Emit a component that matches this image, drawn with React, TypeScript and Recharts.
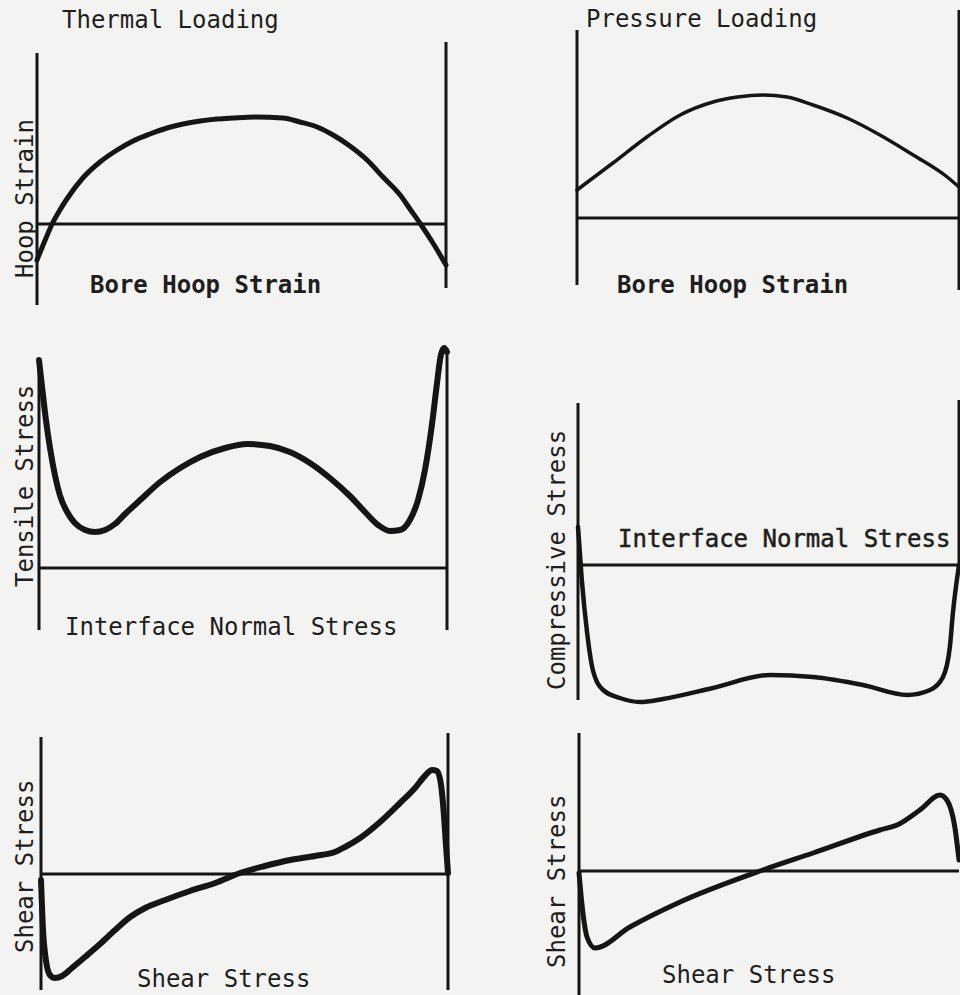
import React from 'react';
import { LineChart, Line, XAxis, YAxis, ReferenceLine } from 'recharts';

// Position along the interface, % of length; values are relative (arbitrary units, 0 = zero line)

// Thermal loading - bore hoop strain
const thermalHoopX = [0, 2.0, 3.7, 5.6, 7.3, 11.2, 15.4, 19.6, 23.5, 27.6, 31.8, 35.7, 39.9, 44.0, 47.9, 53.3, 60.1, 64.3, 68.5, 72.4, 76.5, 80.7, 84.6, 88.8, 91.2, 93.6, 96.8, 100];
const thermalHoopY = [-36, -16, 0, 14, 25, 46, 62, 74, 83, 90, 96, 100, 103, 105, 106, 107, 106, 102, 97, 89, 78, 64, 47, 29, 15, 1, -19, -41];

// Pressure loading - bore hoop strain
const pressureHoopX = [0, 9.4, 18.3, 27.0, 35.6, 42.0, 48.7, 55.0, 61.8, 70.7, 79.3, 88.0, 96.9, 100];
const pressureHoopY = [28, 55, 81, 103, 116, 121, 123, 121, 113, 100, 83, 63, 41, 31];

// Thermal loading - interface normal stress (tensile)
const thermalNormalX = [0, 0.7, 1.7, 2.7, 3.9, 5.1, 6.9, 8.8, 11.3, 13.7, 16.2, 18.6, 21.1, 24.8, 29.7, 34.6, 39.5, 45.6, 51.0, 56.6, 61.5, 66.4, 71.3, 76.2, 79.9, 83.1, 86.0, 88.5, 90.9, 92.9, 94.6, 96.3, 97.5, 98.5, 99.3, 100];
const thermalNormalY = [208, 183, 148, 120, 93, 73, 56, 45, 38, 36, 38, 44, 54, 68, 86, 100, 111, 120, 124, 122, 116, 105, 90, 72, 56, 43, 37, 38, 48, 68, 98, 143, 183, 213, 220, 216];

// Pressure loading - interface normal stress (compressive)
const pressureNormalX = [0, 1.0, 2.4, 3.9, 6.6, 11.0, 16.3, 22.3, 35.4, 50.4, 61.7, 74.8, 86.4, 92.4, 95.8, 97.6, 98.4, 100];
const pressureNormalY = [38, -15, -68, -105, -125, -133, -137, -134, -123, -110, -112, -120, -130, -125, -112, -82, -48, 0];

// Thermal loading - shear stress
const thermalShearX = [0, 0.5, 1.2, 2.2, 3.4, 5.2, 7.6, 10.8, 14.5, 18.2, 21.9, 25.6, 30.5, 36.6, 42.8, 48.9, 55.0, 61.2, 67.3, 72.2, 74.7, 78.4, 83.3, 88.2, 91.9, 94.3, 96.1, 97.3, 98.3, 99.0, 99.5, 100];
const thermalShearY = [-6, -56, -86, -101, -104, -102, -94, -83, -70, -56, -43, -34, -26, -17, -9, 1, 8, 14, 18, 22, 27, 36, 52, 71, 86, 98, 104, 103, 89, 59, 29, 1];

// Pressure loading - shear stress
const pressureShearX = [0, 1.1, 2.1, 4.2, 13.4, 26.6, 48.4, 61.6, 79.2, 83.7, 89.7, 95.0, 96.8, 98.9, 100];
const pressureShearY = [-2, -44, -66, -77, -56, -31, 1, 18, 41, 46, 61, 76, 71, 44, 11];

const zip = (xs: number[], ys: number[]) => xs.map((x, i) => ({ x, y: ys[i] }));

const INK = '#151515';
const PAPER = '#f3f3f1';
const PAD = 10;
const FONT = '"DejaVu Sans Mono", monospace';

interface PanelProps {
  left: number;
  right: number;
  top: number;
  bottom: number;
  domain: [number, number];
  data: { x: number; y: number }[];
  leftAxis: [number, number];
  rightAxis?: [number, number];
  curveWidth: number;
}

function Panel({ left, right, top, bottom, domain, data, leftAxis, rightAxis, curveWidth }: PanelProps) {
  const w = right - left + PAD * 2;
  const h = bottom - top + PAD * 2;
  return (
    <div style={{ position: 'absolute', left: left - PAD, top: top - PAD }}>
      <LineChart width={w} height={h} data={data} margin={{ top: PAD, right: PAD, bottom: PAD, left: PAD }}>
        <XAxis dataKey="x" type="number" domain={[0, 100]} hide />
        <YAxis type="number" domain={domain} hide />
        <ReferenceLine y={0} stroke={INK} strokeWidth={3} />
        <ReferenceLine
          segment={[{ x: 0, y: leftAxis[0] }, { x: 0, y: leftAxis[1] }]}
          stroke={INK}
          strokeWidth={3}
        />
        {rightAxis && (
          <ReferenceLine
            segment={[{ x: 100, y: rightAxis[0] }, { x: 100, y: rightAxis[1] }]}
            stroke={INK}
            strokeWidth={3}
          />
        )}
        <Line
          dataKey="y"
          type="monotone"
          stroke={INK}
          strokeWidth={curveWidth}
          strokeLinejoin="round"
          strokeLinecap="round"
          dot={false}
          activeDot={false}
          isAnimationActive={false}
        />
      </LineChart>
    </div>
  );
}

function Label({ x, y, text, bold, rotate, heavy }: { x: number; y: number; text: string; bold?: boolean; rotate?: boolean; heavy?: boolean }) {
  return (
    <text
      x={x}
      y={y}
      fontFamily={FONT}
      fontSize={24}
      fontWeight={bold ? 'bold' : 'normal'}
      fill="#1e1e1e"
      stroke={heavy ? '#1e1e1e' : 'none'}
      strokeWidth={heavy ? 0.5 : 0}
      transform={rotate ? `rotate(-90 ${x} ${y})` : undefined}
    >
      {text}
    </text>
  );
}

export default function App() {
  return (
    <div
      style={{
        position: 'absolute',
        left: 0,
        top: 0,
        width: 960,
        height: 995,
        overflow: 'hidden',
        background: PAPER,
      }}
    >
      <Panel left={37} right={446} top={42} bottom={305} domain={[-81, 182]}
        data={zip(thermalHoopX, thermalHoopY)} leftAxis={[-81, 171]} rightAxis={[-64, 182]} curveWidth={5} />
      <Panel left={577} right={959} top={10} bottom={290} domain={[-72, 208]}
        data={zip(pressureHoopX, pressureHoopY)} leftAxis={[-67, 188]} rightAxis={[-72, 208]} curveWidth={3.5} />
      <Panel left={39} right={447} top={340} bottom={635} domain={[-67, 228]}
        data={zip(thermalNormalX, thermalNormalY)} leftAxis={[-62, 208]} rightAxis={[-62, 220]} curveWidth={6} />
      <Panel left={578} right={959} top={398} bottom={705} domain={[-140, 167]}
        data={zip(pressureNormalX, pressureNormalY)} leftAxis={[-135, 162]} rightAxis={[-5, 165]} curveWidth={4.5} />
      <Panel left={41} right={448} top={730} bottom={992} domain={[-118, 144]}
        data={zip(thermalShearX, thermalShearY)} leftAxis={[-116, 137]} rightAxis={[-116, 141]} curveWidth={6} />
      <Panel left={579} right={959} top={730} bottom={995} domain={[-124, 141]}
        data={zip(pressureShearX, pressureShearY)} leftAxis={[-124, 138]} curveWidth={5} />

      <svg width={960} height={995} style={{ position: 'absolute', left: 0, top: 0, pointerEvents: 'none' }}>
        <Label x={62} y={28} text="Thermal Loading" />
        <Label x={586} y={27} text="Pressure Loading" />
        <Label x={90} y={293} text="Bore Hoop Strain" bold />
        <Label x={617} y={293} text="Bore Hoop Strain" bold />
        <Label x={33} y={278} text="Hoop Strain" rotate />
        <Label x={33} y={587} text="Tensile Stress" rotate />
        <Label x={65} y={635} text="Interface Normal Stress" />
        <Label x={565} y={690} text="Compressive Stress" rotate />
        <Label x={618} y={547} text="Interface Normal Stress" heavy />
        <Label x={33} y={953} text="Shear Stress" rotate />
        <Label x={137} y={987} text="Shear Stress" />
        <Label x={565} y={968} text="Shear Stress" rotate />
        <Label x={662} y={983} text="Shear Stress" />
      </svg>
    </div>
  );
}
